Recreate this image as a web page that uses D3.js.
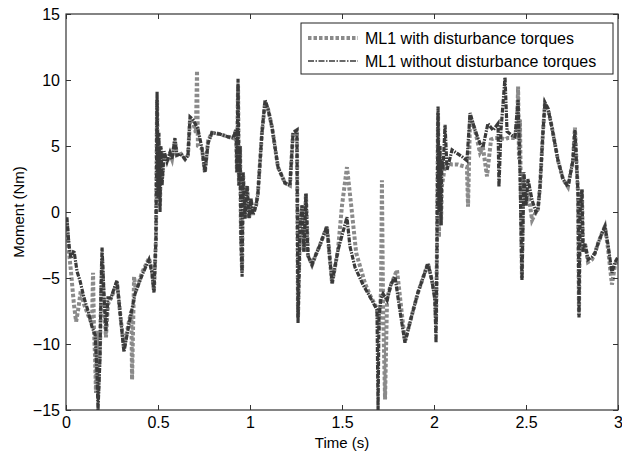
<!DOCTYPE html>
<html>
<head>
<meta charset="utf-8">
<script src="https://cdn.jsdelivr.net/npm/d3@7"></script>
<style>
  body { margin: 0; background: #fff; }
  text { font-family: "Liberation Sans", Arial, sans-serif; fill: #000; }
</style>
</head>
<body>
<div id="chart"></div>
<script>
// series 1: ML1 with disturbance torques (time in s, moment in Nm)
const timeWith = [0.005,0.016,0.027,0.043,0.055,0.065,0.08,0.098,0.12,0.141,0.147,0.152,0.158,0.163,0.168,0.174,0.185,0.196,0.207,0.217,0.228,0.245,0.261,0.277,0.293,0.315,0.342,0.355,0.359,0.37,0.38,0.413,0.451,0.467,0.478,0.489,0.495,0.5,0.505,0.511,0.516,0.522,0.533,0.549,0.565,0.576,0.592,0.603,0.625,0.647,0.663,0.674,0.69,0.706,0.712,0.717,0.739,0.755,0.772,0.793,0.837,0.88,0.908,0.924,0.929,0.935,0.94,0.946,0.951,0.957,0.962,0.973,0.984,0.995,1.005,1.016,1.033,1.043,1.065,1.082,1.098,1.12,1.152,1.19,1.217,1.234,1.255,1.261,1.272,1.283,1.293,1.304,1.315,1.337,1.353,1.38,1.418,1.446,1.478,1.5,1.527,1.55,1.577,1.625,1.652,1.69,1.701,1.712,1.717,1.723,1.734,1.745,1.766,1.799,1.842,1.88,1.913,1.967,1.989,2.005,2.011,2.016,2.022,2.027,2.033,2.038,2.043,2.06,2.071,2.098,2.13,2.152,2.179,2.185,2.196,2.223,2.25,2.266,2.288,2.31,2.33,2.353,2.364,2.386,2.4,2.424,2.44,2.452,2.457,2.462,2.467,2.478,2.484,2.489,2.5,2.511,2.522,2.533,2.554,2.565,2.576,2.592,2.603,2.62,2.641,2.674,2.701,2.728,2.755,2.766,2.777,2.783,2.788,2.793,2.804,2.81,2.821,2.837,2.859,2.875,2.891,2.913,2.929,2.946,2.967,2.984,3.0];
const momentWith = [-0.8,-3.0,-4.5,-7.0,-8.3,-7.5,-6.0,-7.0,-7.8,-8.5,-4.6,-9,-11,-13.7,-9,-14,-10,-3.5,-7,-9.5,-7,-6.5,-6,-5.3,-7.5,-10.3,-8.3,-7.5,-12.7,-4.9,-6.0,-4.6,-3.5,-4.4,-6.0,-2,8.5,2,5,0.5,4.5,2.5,4.4,3.8,4.4,4.0,5.4,4.3,4.4,4.0,4.3,7.0,6.8,6.0,10.7,5,4.8,3.0,5.4,6.0,5.9,5.7,5.6,6.2,3,9.6,2,5,-2,-4.5,3,-0.5,2,-0.5,1.0,-0.2,0.5,1.4,6,8.3,7.8,6.4,3.4,2.2,2.0,6.0,6.2,-8.0,-1,0.5,-3,1.4,-3.3,-4.0,-3.4,-2.5,-1.1,-5.4,-2.9,0.5,3.4,0.5,-3.1,-5.4,-6.3,-7.3,-9,-6,2.4,-7,-14.2,-6.5,-5.5,-4.4,-9.8,-7.8,-6.1,-3.9,-5.2,-6.3,-8.5,-3,7.5,-1.9,4,-1,2,3.5,3.7,3.6,3.6,3.5,3.4,0.4,7.3,6.2,4.5,4.9,2.7,5.5,5.6,5.6,5.6,5.5,5.6,5.6,5.6,6.5,9.5,4,7.0,-5,3,1.4,0.5,1.5,0.5,-0.6,0,0.2,1.9,6,8.2,7.8,6.4,3.9,2.5,1.9,3.9,6.4,3,1.4,-7.8,0,1.7,-3,-2.4,-3.8,-3.6,-3.1,-2.4,-1.6,-1.1,-2.8,-5.5,-4.0,-3.6];

// series 2: ML1 without disturbance torques
const timeWithout = [0.005,0.016,0.027,0.043,0.06,0.076,0.098,0.12,0.141,0.158,0.168,0.174,0.185,0.19,0.196,0.207,0.217,0.228,0.245,0.261,0.277,0.293,0.315,0.342,0.375,0.413,0.451,0.467,0.478,0.489,0.495,0.5,0.505,0.511,0.516,0.522,0.533,0.549,0.565,0.576,0.592,0.603,0.625,0.647,0.663,0.674,0.69,0.717,0.739,0.755,0.772,0.793,0.837,0.88,0.908,0.924,0.929,0.935,0.94,0.946,0.951,0.957,0.962,0.973,0.984,0.995,1.005,1.016,1.033,1.043,1.065,1.082,1.098,1.12,1.152,1.19,1.217,1.234,1.255,1.261,1.272,1.283,1.293,1.304,1.315,1.337,1.353,1.38,1.418,1.446,1.478,1.527,1.543,1.571,1.614,1.663,1.69,1.696,1.701,1.712,1.723,1.745,1.766,1.788,1.815,1.842,1.88,1.913,1.967,1.989,2.005,2.011,2.016,2.022,2.027,2.033,2.038,2.043,2.049,2.06,2.071,2.098,2.13,2.152,2.179,2.196,2.223,2.25,2.266,2.293,2.321,2.348,2.353,2.364,2.386,2.397,2.424,2.44,2.457,2.467,2.478,2.489,2.5,2.511,2.533,2.554,2.565,2.576,2.592,2.603,2.62,2.641,2.674,2.701,2.728,2.755,2.766,2.777,2.783,2.788,2.793,2.804,2.81,2.821,2.837,2.859,2.875,2.891,2.913,2.929,2.946,2.967,2.984,3.0];
const momentWithout = [-0.4,-2.5,-3.5,-2.9,-4.5,-5.2,-6.5,-7.5,-8.7,-9.3,-12,-15,-11,-6,-2.7,-6.5,-9,-6.5,-6.5,-5.8,-5.2,-7.5,-10.6,-8.5,-6.2,-4.8,-3.6,-4.6,-6.1,-2,9.1,1,6,0,5,2,4.6,3.8,4.5,4.0,5.6,4.3,4.4,4.0,4.3,7.2,7.0,6.3,4.8,3.0,5.2,6.0,5.9,5.7,5.6,6.2,3,10.1,2,5,-2,-4.9,3,-0.5,2,-0.5,1.0,-0.2,0.5,1.4,6,8.5,7.8,6.4,3.4,2.2,2.0,6.0,6.2,-8.4,-1,0.5,-3,1.4,-3.3,-4.0,-3.4,-2.5,-1.1,-5.4,-2.9,-0.4,-2.6,-4.2,-5.5,-6.7,-7.4,-15,-8,-6.5,-6.2,-6.7,-5.5,-4.9,-7.5,-9.9,-7.8,-6.1,-3.9,-5.2,-6.7,-9.9,-3,8.0,0,5,-1,4,3.2,6.6,3.2,4.7,4.4,4.2,3.9,7.5,6.2,5.2,4.9,6.7,6.2,6.7,1.9,6.2,10.2,6.1,5.8,5.7,8.5,3.2,-5.2,3,0.5,2.5,0.9,0,0.2,1.9,6,8.3,7.8,6.4,3.9,2.5,1.9,3.9,6.2,3,1.4,-8.0,0,1.7,-3,-2.4,-3.6,-3.4,-3.1,-2.4,-1.6,-1.1,-2.5,-4.6,-3.8,-3.4];

const xTicks = [0, 0.5, 1, 1.5, 2, 2.5, 3];
const yTicks = [-15, -10, -5, 0, 5, 10, 15];
const legendLabels = ["ML1 with disturbance torques", "ML1 without disturbance torques"];

const W = 622, H = 456;
const plotL = 66, plotR = 618, plotT = 14, plotB = 410;

const svg = d3.select("#chart").append("svg")
    .attr("width", W)
    .attr("height", H);

const x = d3.scaleLinear().domain([0, 3]).range([plotL, plotR]);
const y = d3.scaleLinear().domain([-15, 15]).range([plotB, plotT]);

// clip to the axes box
svg.append("clipPath").attr("id", "clip")
  .append("rect")
    .attr("x", plotL).attr("y", plotT)
    .attr("width", plotR - plotL).attr("height", plotB - plotT);

const line = d3.line()
    .x(d => x(d[0]))
    .y(d => y(d[1]));

const dataWith = timeWith.map((t, i) => [t, momentWith[i]]);
const dataWithout = timeWithout.map((t, i) => [t, momentWithout[i]]);

const plot = svg.append("g").attr("clip-path", "url(#clip)");

plot.append("path")
    .datum(dataWith)
    .attr("d", line)
    .attr("fill", "none")
    .attr("stroke", "#8a8a8a")
    .attr("stroke-width", 4)
    .attr("stroke-dasharray", "3.5,2");

plot.append("path")
    .datum(dataWithout)
    .attr("d", line)
    .attr("fill", "none")
    .attr("stroke", "#3a3a3a")
    .attr("stroke-width", 3.2)
    .attr("stroke-dasharray", "5,1.2,1.5,1.2");

// axes, MATLAB style: ticks inside on all four sides
const axisColor = "#333";
const tickLen = 5;

svg.append("g")
    .attr("transform", `translate(0,${plotB})`)
    .call(d3.axisBottom(x).tickValues(xTicks).tickSize(-tickLen).tickPadding(7).tickFormat(d3.format("")))
    .call(g => g.select(".domain").remove());
svg.append("g")
    .attr("transform", `translate(0,${plotT})`)
    .call(d3.axisTop(x).tickValues(xTicks).tickSize(-tickLen).tickFormat(""))
    .call(g => g.select(".domain").remove());
svg.append("g")
    .attr("transform", `translate(${plotL},0)`)
    .call(d3.axisLeft(y).tickValues(yTicks).tickSize(-tickLen).tickPadding(6))
    .call(g => g.select(".domain").remove());
svg.append("g")
    .attr("transform", `translate(${plotR},0)`)
    .call(d3.axisRight(y).tickValues(yTicks).tickSize(-tickLen).tickFormat(""))
    .call(g => g.select(".domain").remove());

svg.selectAll(".tick line").attr("stroke", axisColor);
svg.selectAll(".tick text")
    .attr("font-size", 16)
    .attr("font-family", "'Liberation Sans', Arial, sans-serif")
    .attr("fill", "#000");

svg.append("rect")
    .attr("x", plotL).attr("y", plotT)
    .attr("width", plotR - plotL).attr("height", plotB - plotT)
    .attr("fill", "none")
    .attr("stroke", axisColor)
    .attr("stroke-width", 1.2);

// axis labels
svg.append("text")
    .attr("x", (plotL + plotR) / 2)
    .attr("y", 448)
    .attr("text-anchor", "middle")
    .attr("font-size", 15)
    .text("Time (s)");

svg.append("text")
    .attr("transform", `translate(24,${(plotT + plotB) / 2}) rotate(-90)`)
    .attr("text-anchor", "middle")
    .attr("font-size", 15)
    .text("Moment (Nm)");

// legend
const lg = svg.append("g");
lg.append("rect")
    .attr("x", 301).attr("y", 23)
    .attr("width", 312).attr("height", 51)
    .attr("fill", "#fff")
    .attr("stroke", "#222")
    .attr("stroke-width", 1);

const legendStyles = [
  {stroke: "#8a8a8a", width: 4, dash: "3.5,2"},
  {stroke: "#383838", width: 1.6, dash: "6,1.5,1.5,1.5"}
];
legendLabels.forEach((label, i) => {
  const cy = 38 + i * 23;
  lg.append("line")
      .attr("x1", 308).attr("x2", 358)
      .attr("y1", cy).attr("y2", cy)
      .attr("stroke", legendStyles[i].stroke)
      .attr("stroke-width", legendStyles[i].width)
      .attr("stroke-dasharray", legendStyles[i].dash);
  lg.append("text")
      .attr("x", 365)
      .attr("y", cy + 6)
      .attr("font-size", 16)
      .text(label);
});
</script>
</body>
</html>
